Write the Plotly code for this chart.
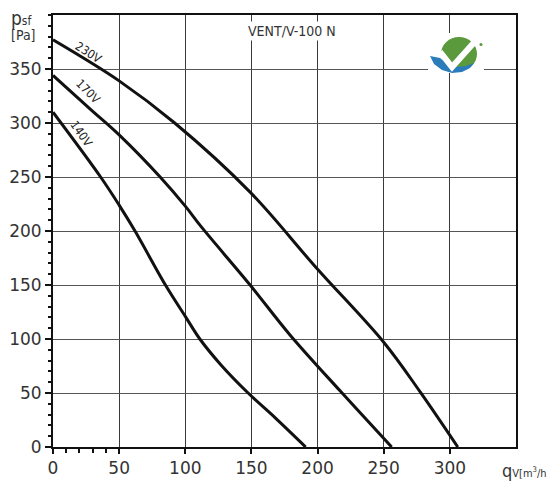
import plotly.graph_objects as go

# ---- data ----
q_230 = [0, 50, 92, 149, 199, 250, 277, 306]
p_230 = [377, 339, 300, 236, 166, 97, 52, 0]

q_170 = [0, 29, 50, 81, 100, 112, 149, 179, 217, 256]
p_170 = [344, 312, 289, 250, 223, 204, 150, 104, 52, 0]

q_140 = [0, 36, 50, 62, 85, 100, 111, 127, 147.5, 168, 191]
p_140 = [310, 250, 224, 200, 150, 121, 100, 76, 50, 27, 0]

x_ticks = [0, 50, 100, 150, 200, 250, 300]
y_ticks = [0, 50, 100, 150, 200, 250, 300, 350]
x_minor = [10, 20, 30, 40]
series_names = ["230V", "170V", "140V"]

# page is drawn with an 8px body margin, so the figure is offset by (8, 8)
OFF = 8
PAGE_W, PAGE_H = 555, 481
W, H = PAGE_W - OFF, PAGE_H - OFF
PX0, PX1 = 53, 516      # plot area in page pixels
PY1, PY0 = 15, 447
ML, MR = PX0 - OFF, PAGE_W - PX1
MT, MB = PY1 - OFF, PAGE_H - PY0

def fx(px):
    return (px - PX0) / (PX1 - PX0)

def fy(py):
    return (PY0 - py) / (PY0 - PY1)

fig = go.Figure()
for q, p, n in [(q_230, p_230, series_names[0]), (q_170, p_170, series_names[1]), (q_140, p_140, series_names[2])]:
    fig.add_trace(go.Scatter(x=q, y=p, mode="lines", name=n,
                             line=dict(color="#111111", width=3, shape="spline", smoothing=1.0),
                             showlegend=False, hoverinfo="skip"))

tickfont = dict(family="DejaVu Sans, Roboto, sans-serif", size=17, color="#333333")
narrow = "Liberation Sans Narrow, DejaVu Sans Condensed, Roboto Condensed, Roboto, sans-serif"

fig.update_layout(
    width=W, height=H, autosize=False,
    margin=dict(l=ML, r=MR, t=MT, b=MB, pad=0, autoexpand=False),
    paper_bgcolor="white", plot_bgcolor="white",
    xaxis=dict(range=[0, 350], tickvals=x_ticks, ticktext=[str(v) for v in x_ticks],
               automargin=False,
               showgrid=True, gridcolor="#3a3a3a", gridwidth=1, zeroline=False,
               showline=True, mirror=True, linecolor="#111111", linewidth=2,
               ticks="outside", ticklen=5, tickcolor="#111111", tickwidth=1.5,
               tickfont=tickfont,
               minor=dict(tickvals=x_minor, ticks="outside", ticklen=4, tickcolor="#111111", tickwidth=1.5, showgrid=False),
               fixedrange=True),
    yaxis=dict(range=[0, 400], tickvals=y_ticks, ticktext=[str(v) for v in y_ticks],
               automargin=False,
               showgrid=True, gridcolor="#555555", gridwidth=1, zeroline=False,
               showline=True, mirror=True, linecolor="#111111", linewidth=2,
               ticks="outside", ticklen=6, tickcolor="#111111", tickwidth=1.5,
               tickfont=tickfont,
               minor=dict(dtick=10, tick0=0, ticks="outside", ticklen=3, tickcolor="#111111", tickwidth=1.5, showgrid=False),
               fixedrange=True),
)

ann = []
# curve labels
for txt, px, py, ang in [(series_names[0], 88.8, 53.3, 33), (series_names[1], 88.7, 91.7, 45), (series_names[2], 81.3, 134, 55)]:
    ann.append(dict(text=txt, x=fx(px), y=fy(py), xref="paper", yref="paper", showarrow=False,
                    textangle=ang, font=dict(family=narrow, size=12, color="#222222"),
                    xanchor="center", yanchor="middle"))
# chart title
ann.append(dict(text="VENT/V-100 N", x=fx(292), y=fy(31.5), xref="paper", yref="paper", showarrow=False,
                font=dict(family=narrow, size=14, color="#333333"), bgcolor="white",
                xanchor="center", yanchor="middle", borderpad=1))
# axis titles
ann.append(dict(text="p<span style='font-size:12px'>sf</span>", x=fx(9), y=fy(18), xref="paper", yref="paper",
                showarrow=False, xanchor="left", yanchor="middle",
                font=dict(family=narrow, size=19, color="#333333")))
ann.append(dict(text="[Pa]", x=fx(9), y=fy(35), xref="paper", yref="paper",
                showarrow=False, xanchor="left", yanchor="middle",
                font=dict(family=narrow, size=14, color="#333333")))
ann.append(dict(text="q<span style='font-size:11px'>V[m<sup>3</sup>/h]</span>", x=fx(553), y=fy(470),
                xref="paper", yref="paper", showarrow=False, xanchor="right", yanchor="middle",
                font=dict(family=narrow, size=18, color="#333333")))
fig.update_layout(annotations=ann)

# logo (decorative)
def path(pts, close=True):
    s = "M " + " L ".join(f"{fx(x):.4f},{fy(y):.4f}" for x, y in pts)
    return s + (" Z" if close else "")

shapes = [
    dict(type="rect", xref="paper", yref="paper", x0=fx(428), x1=fx(484), y0=fy(73), y1=fy(33),
         fillcolor="white", line=dict(width=0), layer="above"),
    dict(type="circle", xref="paper", yref="paper", x0=fx(441), x1=fx(477), y0=fy(71), y1=fy(37),
         fillcolor="#5a9a3c", line=dict(width=0), layer="above"),
    dict(type="path", xref="paper", yref="paper",
         path=path([(430, 56), (434, 64), (442, 70), (452, 73), (462, 72), (470, 68), (474, 63),
                    (466, 66), (456, 67), (447, 64), (440, 58)]),
         fillcolor="#2a7cba", line=dict(width=0), layer="above"),
    dict(type="path", xref="paper", yref="paper",
         path=path([(440, 52), (452, 67), (479, 37)], close=False),
         fillcolor="rgba(0,0,0,0)", line=dict(color="white", width=6), layer="above"),
    dict(type="circle", xref="paper", yref="paper", x0=fx(479.5), x1=fx(482.5), y0=fy(46), y1=fy(43),
         fillcolor="#5a9a3c", line=dict(width=0), layer="above"),
]
fig.update_layout(shapes=shapes)

fig.write_html("out.html")
